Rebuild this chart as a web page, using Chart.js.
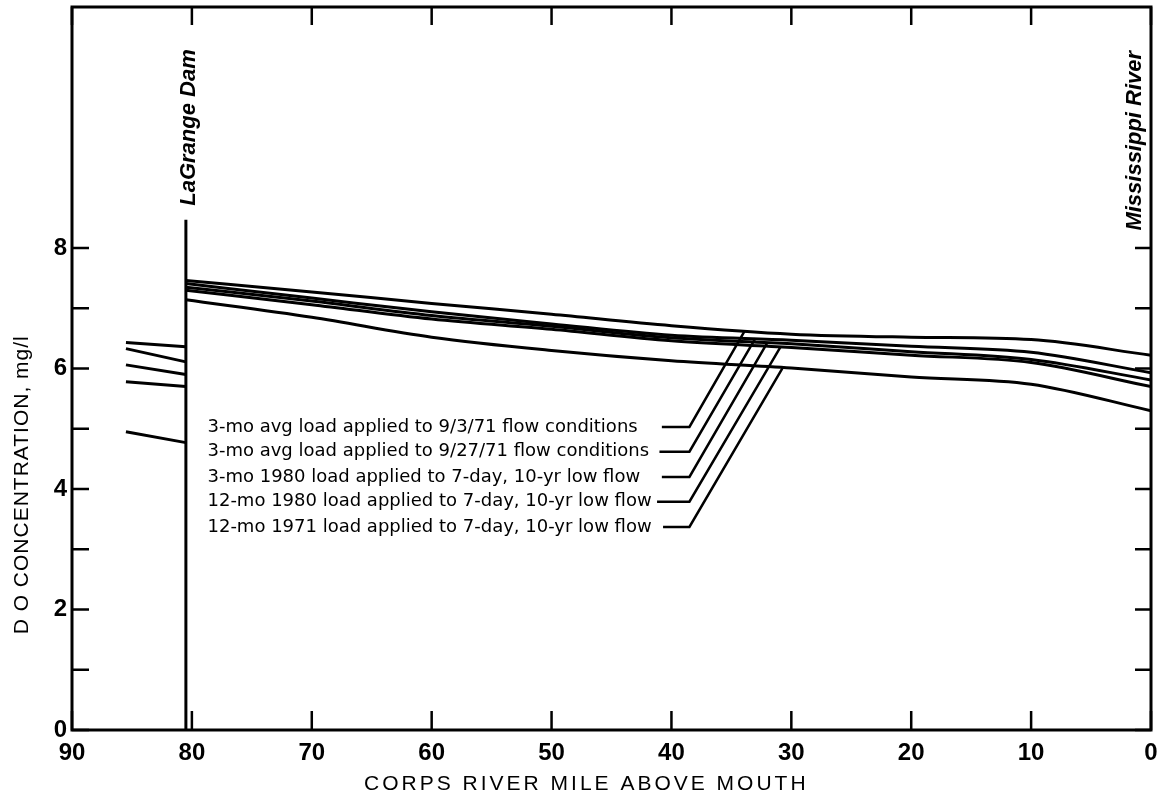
<!DOCTYPE html>
<html>
<head>
<meta charset="utf-8">
<script src="https://cdn.jsdelivr.net/npm/chart.js@4.4.0/dist/chart.umd.min.js"></script>
<style>
  body { margin: 0; background: #fff; }
  #wrap { width: 1160px; height: 806px; }
</style>
</head>
<body>
<div id="wrap"><canvas id="doChart" width="1160" height="806"></canvas></div>
<script>
// river miles and DO values
const upstreamMiles = [85.5, 80.5];
const mainMiles = [80.5, 70, 60, 50, 40, 30, 20, 10, 0];

const seriesNames = [
    '3-mo avg load applied to 9/3/71 flow conditions',
    '3-mo avg load applied to 9/27/71 flow conditions',
    '3-mo 1980 load applied to 7-day, 10-yr low flow',
    '12-mo 1980 load applied to 7-day, 10-yr low flow',
    '12-mo 1971 load applied to 7-day, 10-yr low flow'
];

const upstreamValues = [
    [6.43, 6.36],
    [6.33, 6.11],
    [6.06, 5.90],
    [5.78, 5.70],
    [4.95, 4.77]
];

const mainValues = [
    [7.46, 7.27, 7.08, 6.90, 6.71, 6.57, 6.52, 6.48, 6.22],
    [7.41, 7.17, 6.94, 6.74, 6.55, 6.47, 6.37, 6.27, 5.93],
    [7.35, 7.12, 6.88, 6.70, 6.51, 6.41, 6.28, 6.15, 5.81],
    [7.30, 7.06, 6.82, 6.65, 6.46, 6.35, 6.22, 6.10, 5.70],
    [7.14, 6.85, 6.52, 6.30, 6.13, 6.01, 5.86, 5.74, 5.30]
];

// LaGrange Dam marker
const damMile = 80.5;
const damTop = 8.47;

// leader lines from each label to its curve
const leaderMiles = [
    [40.8, 38.5, 33.9],
    [41.0, 38.5, 33.0],
    [40.8, 38.5, 32.0],
    [41.2, 38.5, 30.9],
    [40.7, 38.5, 30.7]
];
const leaderValues = [
    [5.03, 5.03, 6.62],
    [4.62, 4.62, 6.50],
    [4.20, 4.20, 6.43],
    [3.79, 3.79, 6.36],
    [3.37, 3.37, 6.02]
];
const labelMile = 78.7;

const xTicks = [90, 80, 70, 60, 50, 40, 30, 20, 10, 0];
const yTicks = [0, 1, 2, 3, 4, 5, 6, 7, 8];
const yLabels = [0, 2, 4, 6, 8];

const FONT = "'Liberation Sans', Arial, sans-serif";

function toPoints(xs, ys) {
    return xs.map((m, i) => ({ x: m, y: ys[i] }));
}

const datasets = [];

mainValues.forEach((vals, i) => {
    datasets.push({
        label: seriesNames[i],
        data: toPoints(mainMiles, vals),
        borderColor: '#000',
        borderWidth: 3,
        pointRadius: 0,
        cubicInterpolationMode: 'monotone'
    });
    datasets.push({
        label: seriesNames[i] + ' (above dam)',
        data: toPoints(upstreamMiles, upstreamValues[i]),
        borderColor: '#000',
        borderWidth: 3,
        pointRadius: 0
    });
    datasets.push({
        label: 'leader ' + (i + 1),
        data: toPoints(leaderMiles[i], leaderValues[i]),
        borderColor: '#000',
        borderWidth: 2.5,
        pointRadius: 0
    });
});

datasets.push({
    label: 'LaGrange Dam',
    data: [{ x: damMile, y: 0 }, { x: damMile, y: damTop }],
    borderColor: '#000',
    borderWidth: 3,
    pointRadius: 0
});

const overlay = {
    id: 'overlay',
    afterDraw(chart) {
        const { ctx, chartArea: a, scales: { x, y } } = chart;
        ctx.save();
        ctx.strokeStyle = '#000';
        ctx.fillStyle = '#000';

        // frame
        ctx.lineWidth = 3;
        ctx.strokeRect(a.left, a.top, a.right - a.left, a.bottom - a.top);

        // inward tick marks
        ctx.lineWidth = 2.5;
        ctx.beginPath();
        xTicks.forEach(m => {
            const px = x.getPixelForValue(m);
            ctx.moveTo(px, a.bottom);
            ctx.lineTo(px, a.bottom - 19);
            ctx.moveTo(px, a.top);
            ctx.lineTo(px, a.top + 18);
        });
        yTicks.forEach(v => {
            const py = y.getPixelForValue(v);
            ctx.moveTo(a.left, py);
            ctx.lineTo(a.left + 17, py);
            ctx.moveTo(a.right, py);
            ctx.lineTo(a.right - 16, py);
        });
        ctx.stroke();

        // labels next to the leaders
        ctx.font = "18px 'DejaVu Sans', sans-serif";
        ctx.textAlign = 'left';
        ctx.textBaseline = 'middle';
        seriesNames.forEach((name, i) => {
            ctx.fillText(name, x.getPixelForValue(labelMile), y.getPixelForValue(leaderValues[i][0]));
        });

        // rotated place names
        ctx.font = 'italic bold 22px ' + FONT;
        ctx.textAlign = 'center';
        ctx.save();
        ctx.translate(x.getPixelForValue(damMile) + 3, y.getPixelForValue(10.0));
        ctx.rotate(-Math.PI / 2);
        ctx.fillText('LaGrange Dam', 0, 0);
        ctx.restore();

        ctx.save();
        ctx.translate(x.getPixelForValue(0) - 16, y.getPixelForValue(9.78));
        ctx.rotate(-Math.PI / 2);
        ctx.fillText('Mississippi River', 0, 0);
        ctx.restore();

        // axis titles
        ctx.font = '21px ' + FONT;
        ctx.letterSpacing = '3px';
        ctx.fillText('CORPS RIVER MILE ABOVE MOUTH', x.getPixelForValue(47.1), a.bottom + 54);

        ctx.letterSpacing = '1px';
        ctx.save();
        ctx.translate(22, y.getPixelForValue(4.07));
        ctx.rotate(-Math.PI / 2);
        ctx.fillText('D O CONCENTRATION, mg/l', 0, 0);
        ctx.restore();

        ctx.restore();
    }
};

const ctx = document.getElementById('doChart').getContext('2d');

new Chart(ctx, {
    type: 'line',
    data: { datasets: datasets },
    options: {
        responsive: false,
        animation: false,
        layout: { padding: { top: 7, right: 9, left: 0, bottom: 0 } },
        plugins: {
            legend: { display: false },
            tooltip: { enabled: false }
        },
        scales: {
            x: {
                type: 'linear',
                reverse: true,
                min: 0,
                max: 90,
                grid: { display: false, drawTicks: false },
                border: { display: false },
                ticks: {
                    stepSize: 10,
                    padding: 9,
                    color: '#000',
                    maxRotation: 0,
                    font: { family: FONT, size: 24, weight: 'bold' }
                },
                afterFit: scale => {
                    scale.height = 76;
                    scale.paddingLeft = 0;
                    scale.paddingRight = 0;
                }
            },
            y: {
                min: 0,
                max: 12,
                grid: { display: false, drawTicks: false },
                border: { display: false },
                ticks: {
                    stepSize: 1,
                    padding: 5,
                    color: '#000',
                    font: { family: FONT, size: 24, weight: 'bold' },
                    callback: v => yLabels.includes(v) ? v : null
                },
                afterFit: scale => {
                    scale.width = 72;
                    scale.paddingTop = 0;
                    scale.paddingBottom = 0;
                }
            }
        }
    },
    plugins: [overlay]
});
</script>
</body>
</html>
